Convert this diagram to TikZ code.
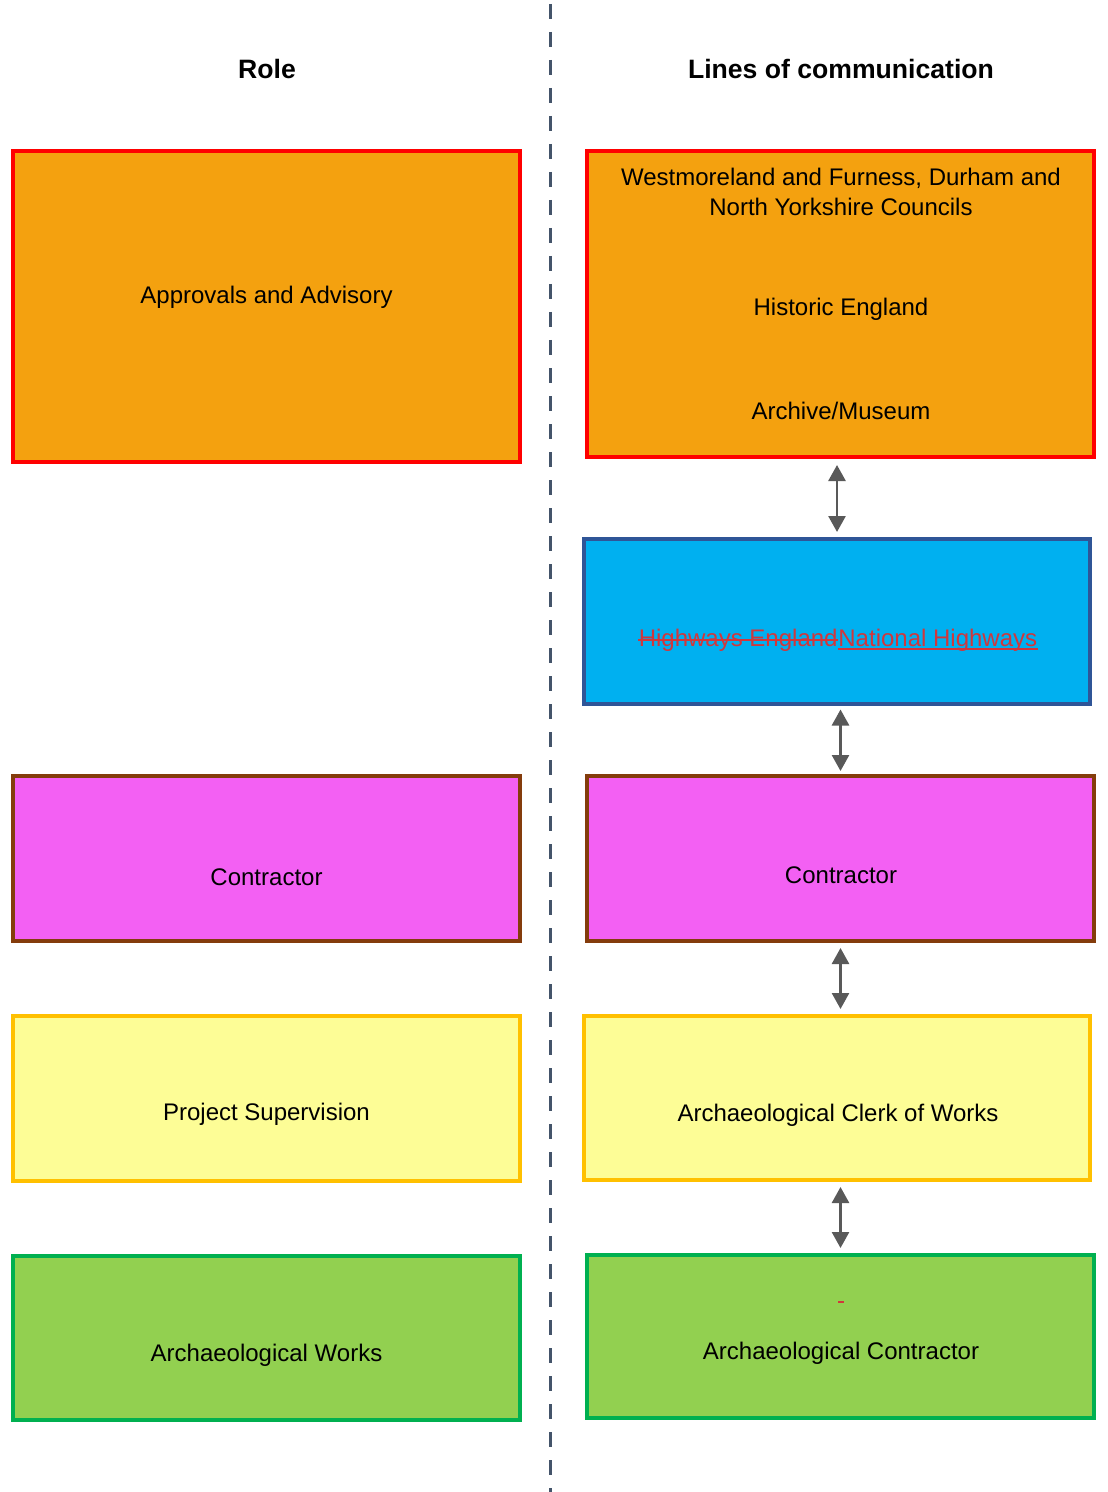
\documentclass[tikz,border=0pt]{standalone}
\usepackage{fontspec}
\setmainfont{Liberation Sans}
\usepackage{xcolor}
\usetikzlibrary{positioning,arrows.meta}
\definecolor{apprfill}{HTML}{F4A10F}
\definecolor{apprline}{HTML}{FF0000}
\definecolor{contfill}{HTML}{F360F3}
\definecolor{contline}{HTML}{843C0C}
\definecolor{supfill}{HTML}{FDFD96}
\definecolor{supline}{HTML}{FFC000}
\definecolor{worksfill}{HTML}{92D050}
\definecolor{worksline}{HTML}{00B050}
\definecolor{nhfill}{HTML}{00B0F0}
\definecolor{nhline}{HTML}{2F5597}
\definecolor{nhtext}{HTML}{D0373C}
\definecolor{arrowgrey}{HTML}{595959}
\definecolor{divgrey}{HTML}{44546A}
\tikzset{
    box/.style={
        rectangle,
        draw,
        line width=2pt,
        minimum width=253.5pt,
        inner sep=0pt
    },
    label text/.style={font=\fontsize{12}{14}\selectfont, inner sep=0pt},
    head text/.style={font=\fontsize{13.3}{16}\selectfont\bfseries, inner sep=0pt},
    biarrow/.style={
        {Triangle[width=8.5pt,length=8pt]}-{Triangle[width=8.5pt,length=8pt]},
        line width=1.3pt, draw=arrowgrey
    },
    divider/.style={draw=divgrey, line width=1.5pt, dash pattern=on 7.5pt off 6.5pt},
    markline/.style={draw=nhtext, line width=0.9pt}
}

\begin{document}
\begin{tikzpicture}[x=0.5pt,y=-0.5pt]
    \useasboundingbox (0,0) rectangle (1107,1492);

    % Trennlinie
    \coordinate (divtop) at (550,4);
    \coordinate (divbot) at (550,1492);
    \draw[divider] (divtop) -- (divbot);

    % Ueberschriften
    \node[head text] (rolehead) at (267,69) {Role};
    \node[head text] (linehead) at (841,69) {Lines of communication};

    % linke Spalte
    \node[box, fill=apprfill, draw=apprline, minimum height=155.5pt] (apprL) at (266.5,306.5) {};
    \node[box, fill=contfill, draw=contline, minimum height=82.5pt] (contL) at (266.5,858.5) {};
    \node[box, fill=supfill, draw=supline, minimum height=82.5pt] (supL) at (266.5,1098.5) {};
    \node[box, fill=worksfill, draw=worksline, minimum height=82pt] (worksL) at (266.5,1338) {};

    \node[label text] (apprLtxt) at (266.5,297) {Approvals and Advisory};
    \node[label text] (contLtxt) at (266.5,877) {Contractor};
    \node[label text] (supLtxt) at (266.5,1114) {Project Supervision};
    \node[label text] (worksLtxt) at (266.5,1355) {Archaeological Works};

    % rechte Spalte
    \node[box, fill=apprfill, draw=apprline, minimum height=153pt] (apprR) at (840.5,304) {};
    \node[box, fill=nhfill, draw=nhline, minimum width=253pt, minimum height=82.5pt] (nhR) at (837,621.5) {};
    \node[box, fill=contfill, draw=contline, minimum height=82.5pt] (contR) at (840.5,858.5) {};
    \node[box, fill=supfill, draw=supline, minimum width=253pt, minimum height=82pt] (clerkR) at (837,1098) {};
    \node[box, fill=worksfill, draw=worksline, minimum height=81.5pt] (worksR) at (840.5,1336.5) {};

    \node[label text, align=center] (councils) at (841,192) {Westmoreland and Furness, Durham and\\[1pt]North Yorkshire Councils};
    \node[label text] (histeng) at (841,309) {Historic England};
    \node[label text] (archive) at (841,411) {Archive/Museum};
    \node[label text, text=nhtext, anchor=base east] (hwold) at (838,646) {Highways England};
    \node[label text, text=nhtext, anchor=base west] (hwnew) at (hwold.base east) {National Highways};
    \draw[markline] ([yshift=3.2pt]hwold.base west) -- ([yshift=3.2pt]hwold.base east);
    \draw[markline] ([yshift=-1.6pt]hwnew.base west) -- ([yshift=-1.6pt]hwnew.base east);
    \node[label text, text=nhtext] (dashmark) at (841,1302) {\rule{3pt}{0.8pt}};
    \node[label text] (contRtxt) at (841,875) {Contractor};
    \node[label text] (clerktxt) at (838,1115) {Archaeological Clerk of Works};
    \node[label text] (worksRtxt) at (841,1353) {Archaeological Contractor};

    % Pfeile
    \draw[biarrow] ([yshift=-3pt]apprR.south -| nhR.north) -- ([yshift=2.5pt]nhR.north);
    \draw[biarrow] ([yshift=-1.75pt]nhR.south -| contR.north) -- ([yshift=1.5pt]contR.north);
    \draw[biarrow] ([yshift=-2.5pt]contR.south) -- ([yshift=2.5pt]clerkR.north -| contR.south);
    \draw[biarrow] ([yshift=-2.5pt]clerkR.south -| worksR.north) -- ([yshift=2.5pt]worksR.north);
\end{tikzpicture}
\end{document}
